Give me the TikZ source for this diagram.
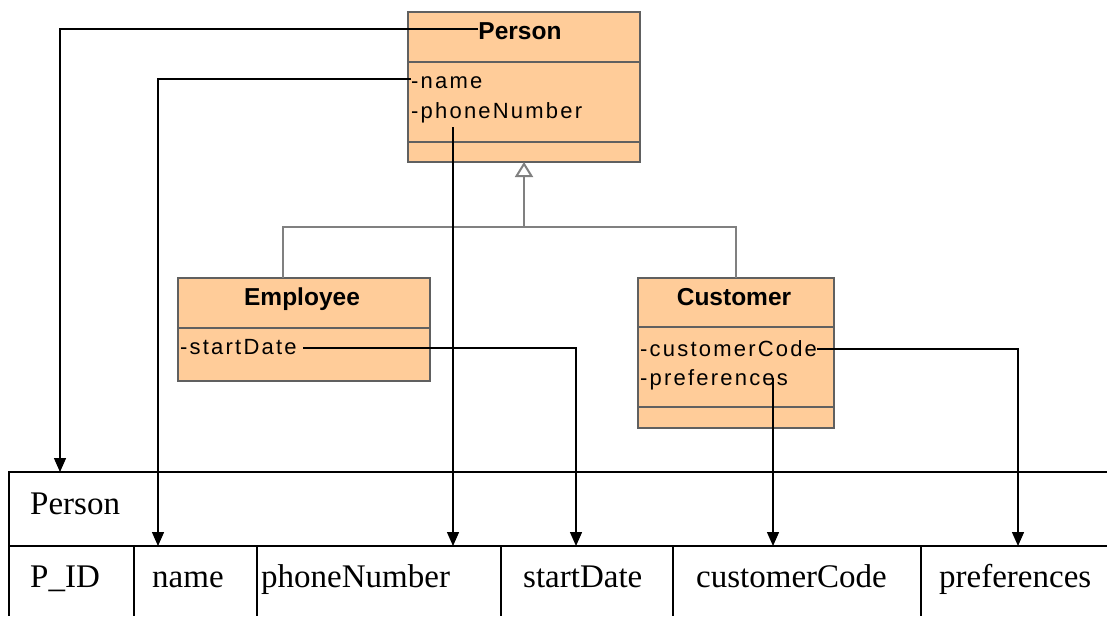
\documentclass[tikz,border=0pt]{standalone}
\usepackage{fontspec}
\setmainfont{Liberation Serif}
\newfontfamily\umlfont[LetterSpace=10]{Liberation Sans}
\newfontfamily\umltitle{Liberation Sans}
\usetikzlibrary{arrows.meta}
\definecolor{peach}{RGB}{255,204,153}
\definecolor{boxline}{RGB}{96,96,96}
\definecolor{inh}{RGB}{128,128,128}
\begin{document}
\begin{tikzpicture}[x=1pt,y=-1pt,
 umlbox/.style={draw=boxline, fill=peach, line width=1.5pt, anchor=north west, inner sep=0pt, outer sep=0pt},
 divider/.style={draw=boxline, line width=1.5pt},
 title/.style={font=\umltitle\bfseries\fontsize{24.5}{24.5}\selectfont, anchor=base, inner sep=0pt},
 attr/.style={font=\umlfont\fontsize{22}{22}\selectfont, anchor=base west, inner sep=0pt},
 cell/.style={font=\fontsize{33}{33}\selectfont, anchor=base west, inner sep=0pt},
 map/.style={line width=1.4pt, -{Triangle[length=14pt,width=12pt]}},
 gen/.style={draw=inh, line width=2pt},
 grid/.style={line width=1.5pt}]
\useasboundingbox[fill=white] (0,0) rectangle (1107,616);

% UML classes
\node[umlbox, minimum width=232pt, minimum height=150pt] (P) at (408,12) {};
\draw[divider] (P.north west) ++(0,50) -- ++(232,0);
\draw[divider] (P.north west) ++(0,130) -- ++(232,0);
\node[title] (Pt) at (520,39) {Person};
\node[attr] (Pname) at (411,88) {-name};
\node[attr] (Pphone) at (411,118) {-phoneNumber};

\node[umlbox, minimum width=252pt, minimum height=103pt] (E) at (178,278) {};
\draw[divider] (E.north west) ++(0,50) -- ++(252,0);
\node[title] (Et) at (302,305) {Employee};
\node[attr] (Estart) at (180,354) {-startDate};

\node[umlbox, minimum width=196pt, minimum height=150pt] (C) at (638,278) {};
\draw[divider] (C.north west) ++(0,49) -- ++(196,0);
\draw[divider] (C.north west) ++(0,129) -- ++(196,0);
\node[title] (Ct) at (734,305) {Customer};
\node[attr] (Ccode) at (640,356) {-customerCode};
\node[attr] (Cpref) at (640,385) {-preferences};

% generalization
\coordinate (junc) at (524,227);
\draw[gen] ([xshift=-21pt]E.north) |- (C.north |- junc) -- (C.north);
\draw[gen, -{Triangle[open, length=15pt, width=18pt]}] (junc) -- (P.south);

% table
\draw[grid] (1107,472) -- (9,472) -- (9,616);
\draw[grid] (9,546) -- (1107,546);
\foreach \x in {134,257,501,673,921} \draw[grid] (\x,546) -- (\x,616);
\node[cell] (tperson) at (30,514) {Person};
\node[cell] (tpid) at (30,587) {P\_ID};
\node[cell] (tname) at (152,587) {name};
\node[cell] (tphone) at (261,587) {phoneNumber};
\node[cell] (tstart) at (523,587) {startDate};
\node[cell] (tcode) at (696,587) {customerCode};
\node[cell] (tpref) at (939,587) {preferences};

% mapping connectors
\coordinate (aPerson) at (60,472);
\coordinate (aName) at (158,546);
\coordinate (aPhone) at (453,546);
\coordinate (aStart) at (576,546);
\coordinate (aCode) at (1018,546);
\coordinate (aPref) at (773,546);
\coordinate (sPhone) at (453,127);
\coordinate (sStart) at (303,348);
\coordinate (sPref) at (773,378);
\draw[map] (Pt.west |- 0,29) -| (aPerson);
\draw[map] (Pname.west |- 0,79) -| (aName);
\draw[map] (sPhone) -- (aPhone);
\draw[map] (sStart) -| (aStart);
\draw[map] (Ccode.east |- 0,349) -| (aCode);
\draw[map] (sPref) -- (aPref);
\end{tikzpicture}
\end{document}
